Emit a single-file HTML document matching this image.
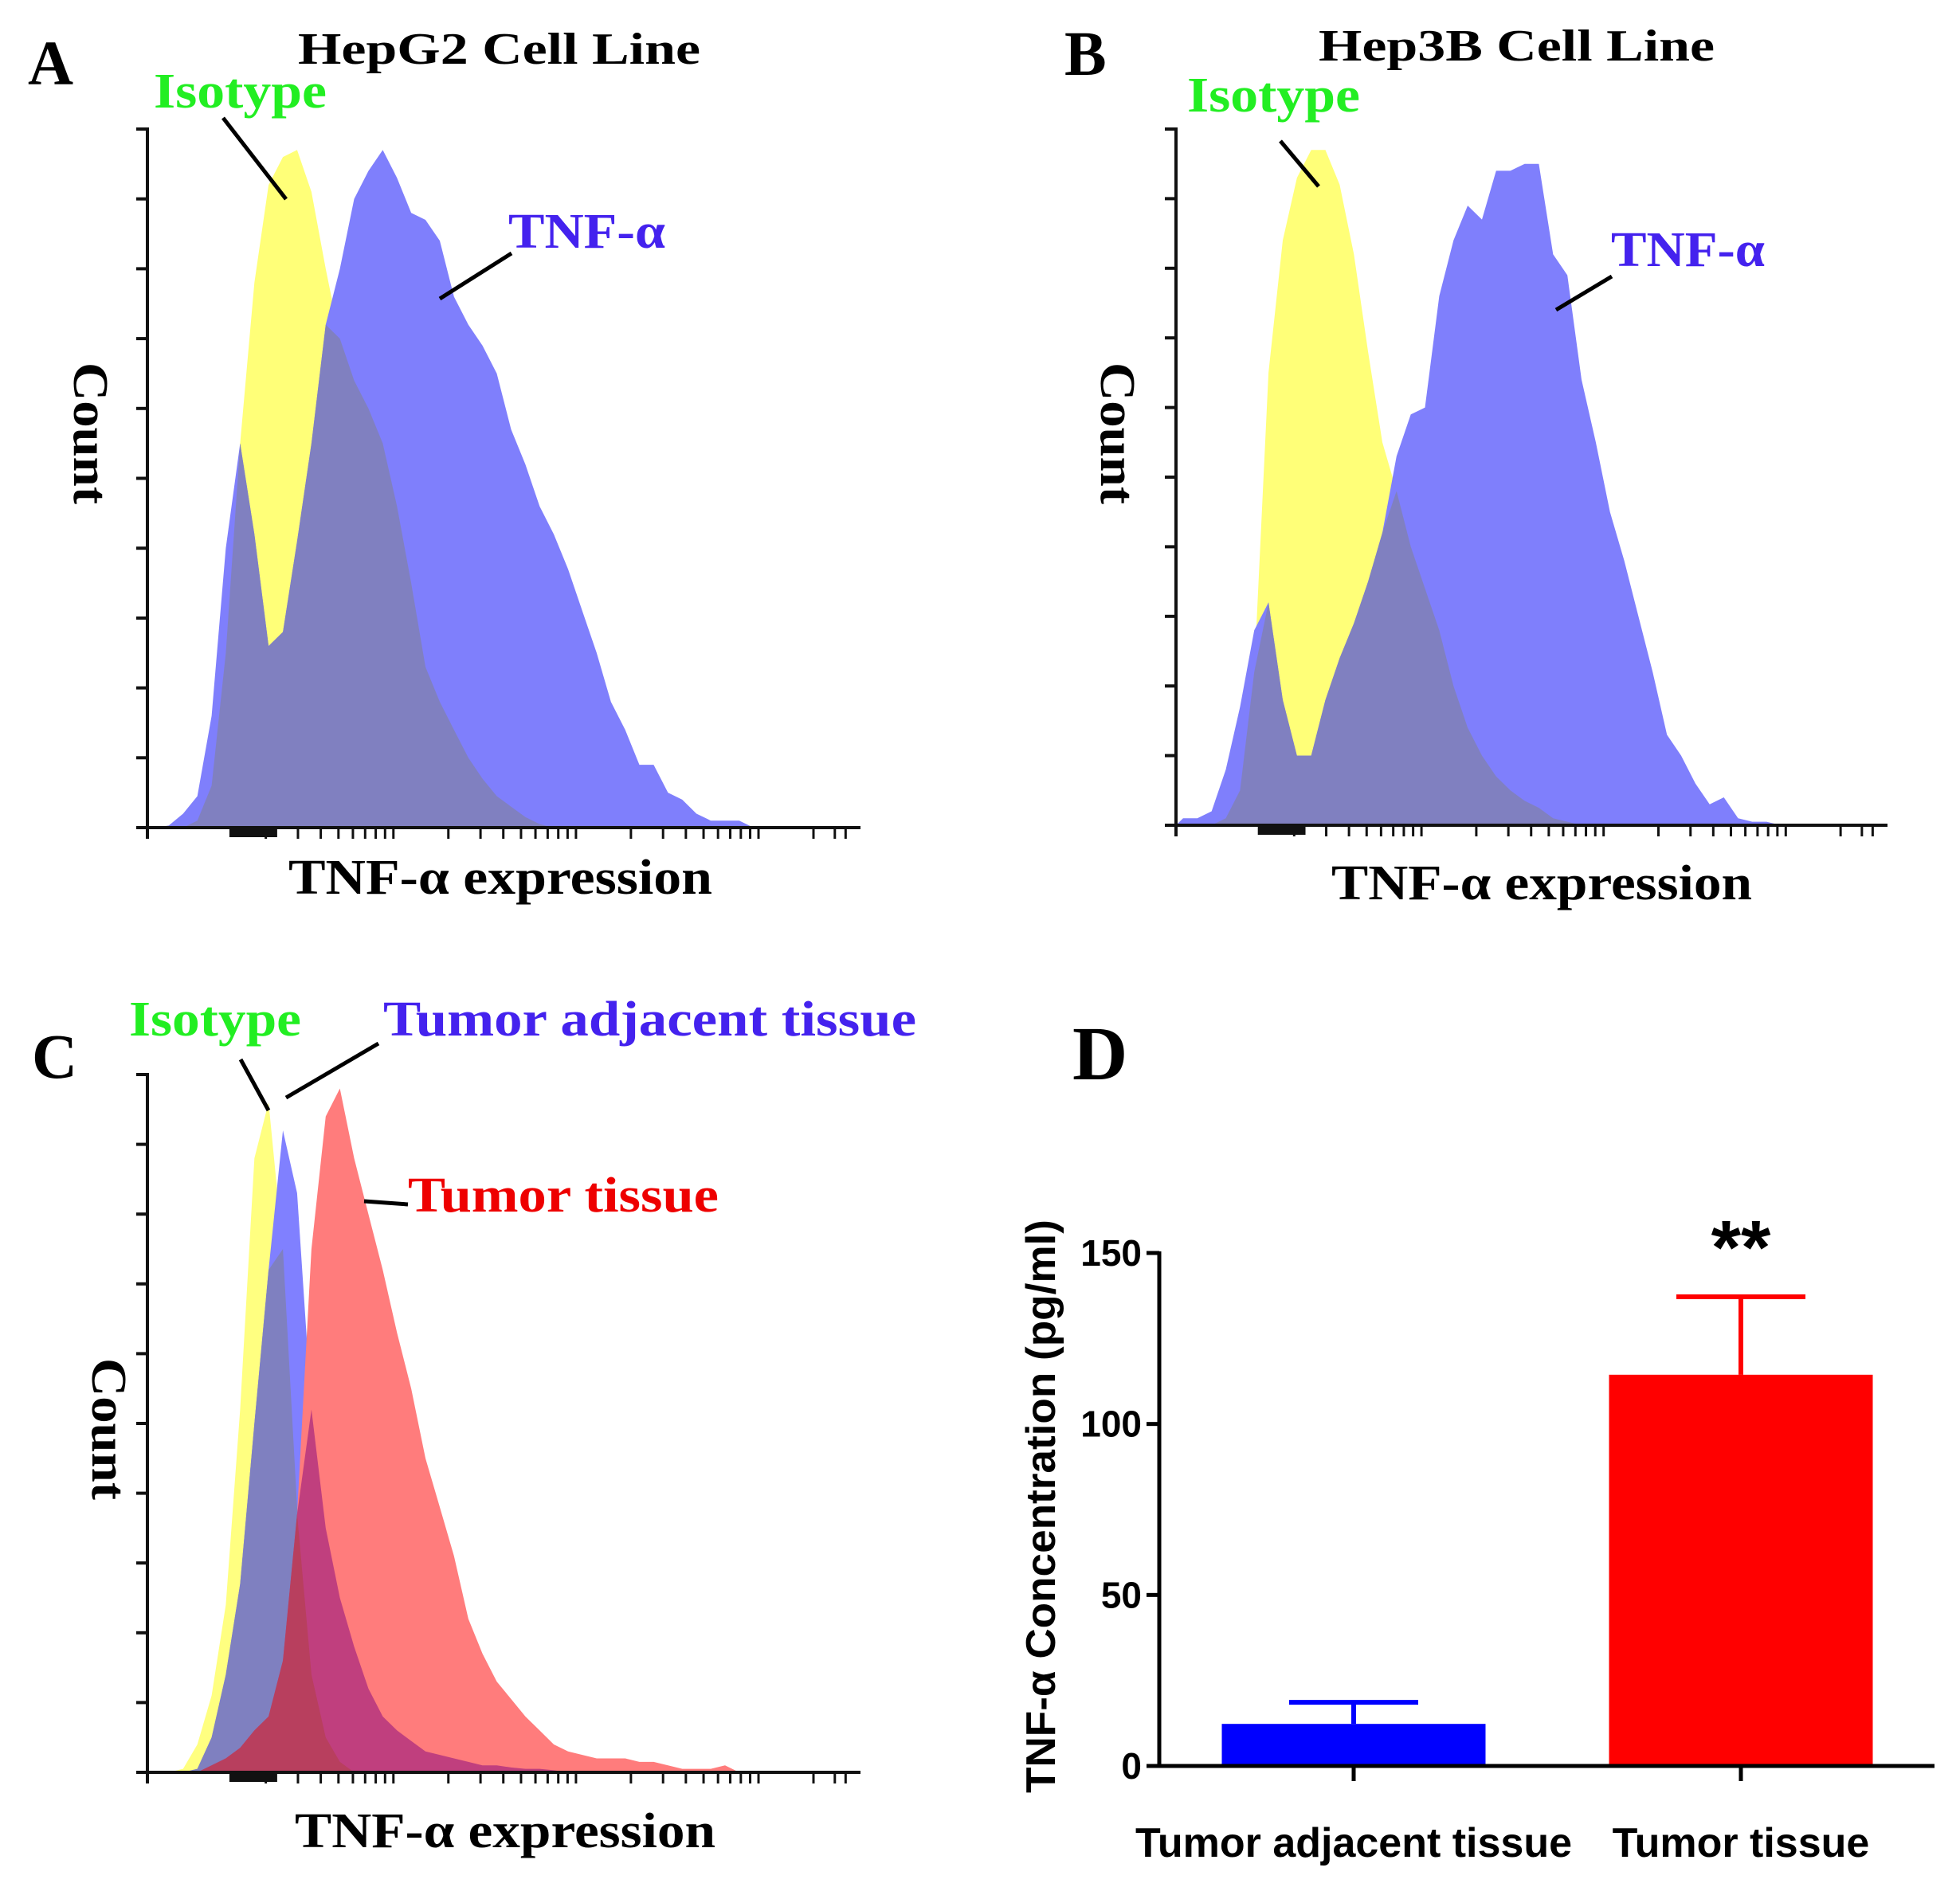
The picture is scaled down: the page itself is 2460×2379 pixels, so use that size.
<!DOCTYPE html>
<html><head><meta charset="utf-8"><style>html,body{margin:0;padding:0;background:#fff}svg{display:block}</style></head>
<body>
<svg id="fig" xmlns="http://www.w3.org/2000/svg" width="2460" height="2379" viewBox="0 0 2460 2379">
<rect width="2460" height="2379" fill="#fff"/>
<g font-family="'Liberation Serif', serif" font-weight="bold">
<text x="35" y="106" font-size="79">A</text>
<text x="374" y="80" font-size="56" textLength="505" lengthAdjust="spacingAndGlyphs">HepG2 Cell Line</text>
<text x="193" y="135" font-size="62" fill="#22ee22" textLength="217" lengthAdjust="spacingAndGlyphs">Isotype</text>
<text x="638" y="311" font-size="62" fill="#4422ee" textLength="197" lengthAdjust="spacingAndGlyphs">TNF-α</text>
<text transform="translate(93,544) rotate(90)" text-anchor="middle" font-size="62" textLength="178" lengthAdjust="spacingAndGlyphs">Count</text>
<text x="362" y="1122" font-size="62" textLength="532" lengthAdjust="spacingAndGlyphs">TNF-α expression</text>

<text x="1336" y="94" font-size="79">B</text>
<text x="1655" y="76" font-size="56" textLength="497" lengthAdjust="spacingAndGlyphs">Hep3B Cell Line</text>
<text x="1490" y="140" font-size="62" fill="#22ee22" textLength="217" lengthAdjust="spacingAndGlyphs">Isotype</text>
<text x="2022" y="334" font-size="62" fill="#4422ee" textLength="193" lengthAdjust="spacingAndGlyphs">TNF-α</text>
<text transform="translate(1382,544) rotate(90)" text-anchor="middle" font-size="62" textLength="178" lengthAdjust="spacingAndGlyphs">Count</text>
<text x="1671" y="1129" font-size="62" textLength="528" lengthAdjust="spacingAndGlyphs">TNF-α expression</text>

<text x="40" y="1353" font-size="79">C</text>
<text x="162" y="1300" font-size="62" fill="#22ee22" textLength="216" lengthAdjust="spacingAndGlyphs">Isotype</text>
<text x="481" y="1300" font-size="62" fill="#4422ee" textLength="669" lengthAdjust="spacingAndGlyphs">Tumor adjacent tissue</text>
<text x="512" y="1521" font-size="62" fill="#ee0000" textLength="390" lengthAdjust="spacingAndGlyphs">Tumor tissue</text>
<text transform="translate(116,1794) rotate(90)" text-anchor="middle" font-size="62" textLength="178" lengthAdjust="spacingAndGlyphs">Count</text>
<text x="370" y="2319" font-size="62" textLength="528" lengthAdjust="spacingAndGlyphs">TNF-α expression</text>

<text x="1346" y="1355" font-size="96">D</text>
</g>
<g id="layers"></g>
</svg>
<script>
// ---------- data ----------
const binWidth = 20; // channel units per bin (channel scale 0-1000)
const aIsotype = [0,0,0,1,6,25,55,78,92,96,97,91,80,70,64,60,55,46,35,23,18,14,10,7,4.5,3,1.5,0.5,0,0,0,0,0,0,0,0,0,0,0,0,0,0,0];
const aTnf = [0,0.3,2,4.5,16,40,55,42,26,28,41,55,72,80,90,94,97,93,88,87,84,76,72,69,65,57,52,46,42,37,31,25,18,14,9,9,5,4,2,1,1,1,0];
const bIsotype = [0,0,0,1,5,22,65,84,93,97,97,92,82,68,55,48,40,34,28,20,14,10,7,5,3.5,2.5,1,0.5,0,0,0,0,0,0,0,0,0,0,0,0,0,0,0];
const bTnf = [1,1,2,8,17,28,32,18,10,10,18,24,29,35,42,53,59,60,76,84,89,87,94,94,95,95,82,79,64,55,45,38,30,22,13,10,6,3,4,1,0.5,0.5,0];
const cIsotype = [0,0,0.5,4,11,24,52,88,96,75,38,14,5,1.5,0,0,0,0,0,0,0,0,0,0,0,0,0,0,0,0,0,0,0,0,0,0,0,0,0,0,0,0];
const cAdjacent = [0,0,0,0.5,5,14,27,50,72,92,83,52,35,25,18,12,8,6,4.5,3,2.5,2,1.5,1,1,0.7,0.5,0.5,0.3,0,0,0,0,0,0,0,0,0,0,0,0,0];
const cTumor = [0,0,0,0,1,2,3.5,6,8,16,37,75,94,98,88,80,72,63,55,45,38,31,22,17,13,10.5,8,6,4,3,2.5,2,2,2,1.5,1.5,1,0.5,0.5,0.5,1,0];
const dCategories = ["Tumor adjacent tissue","Tumor tissue"];
const dMeans = [12.3,114.4];
const dErrors = [6.3,22.8];
const dTicks = [0,50,100,150];
const dColors = ["#0000ff","#ff0000"];

const NS = "http://www.w3.org/2000/svg";
const layers = document.getElementById('layers');
function mk(tag, attrs, parent){
  const e = document.createElementNS(NS, tag);
  for (const k in attrs) e.setAttribute(k, attrs[k]);
  (parent||layers).appendChild(e);
  return e;
}
function minArr(){ const arrs=[...arguments]; return arrs[0].map((v,i)=>Math.min(...arrs.map(a=>a[i]))); }

function histPanel(P, series, name){
  const xs = ch => P.x0 + ch/1000*(P.x1-P.x0);
  const ys = v => P.base - v/100*(P.base-P.top);
  const g = mk('g', {});
  
  
  series.forEach(s=>{
    let d = 'M' + xs(0) + ',' + P.base;
    s.vals.forEach((v,i)=>{ d += ' L' + xs(i*binWidth + binWidth/2).toFixed(1) + ',' + ys(v).toFixed(1); });
    d += ' L' + xs(s.vals.length*binWidth).toFixed(1) + ',' + P.base + ' Z';
    const p = mk('path', {d:d, fill:s.color}, g);
    
    
  });
  const ax = mk('g', {stroke:'#111', 'stroke-width':4, fill:'none'}, g);
  
  
  mk('line', {x1:P.x0, y1:P.top-2, x2:P.x0, y2:P.base+14}, ax);
  mk('line', {x1:P.x0-14, y1:P.base, x2:P.x1, y2:P.base}, ax);
  for (let k=0;k<=10;k++){
    const y = P.base - k/10*(P.base-P.top);
    mk('line', {x1:P.x0-14, y1:y, x2:P.x0, y2:y}, ax);
  }
  const tickCh = [];
  for (let k=0;k<4;k++){
    for (let m=1;m<=9;m++){
      if (k===0 && m===1) continue;
      const c = 89 + 256*k + 256*Math.log10(m);
      if (c < 1000) tickCh.push(c);
    }
  }
  tickCh.push(964);
  tickCh.forEach(c=>{ mk('line', {x1:xs(c), y1:P.base, x2:xs(c), y2:P.base+14, 'stroke-width':3}, ax); });
  mk('rect', {x:xs(115), y:P.base, width:xs(182)-xs(115), height:12, fill:'#111', stroke:'none'}, g);
}

histPanel({x0:185,x1:1080,base:1039,top:162}, [
  {name:'a-isotype-area', vals:aIsotype, color:'#ffff78'},
  {name:'a-tnf-area', vals:aTnf, color:'#7f7ffc'},
  {name:'a-overlap-area', vals:minArr(aIsotype,aTnf), color:'#8080c0'}
], 'panel-a');
histPanel({x0:1476,x1:2369,base:1036,top:162}, [
  {name:'b-isotype-area', vals:bIsotype, color:'#ffff78'},
  {name:'b-tnf-area', vals:bTnf, color:'#7f7ffc'},
  {name:'b-overlap-area', vals:minArr(bIsotype,bTnf), color:'#8080c0'}
], 'panel-b');
histPanel({x0:185,x1:1080,base:2225,top:1349}, [
  {name:'c-isotype-area', vals:cIsotype, color:'#ffff80'},
  {name:'c-adjacent-area', vals:cAdjacent, color:'#8080ff'},
  {name:'c-tumor-area', vals:cTumor, color:'#ff7c7c'},
  {name:'c-isotype-adjacent-overlap', vals:minArr(cIsotype,cAdjacent), color:'#7f80c0'},
  {name:'c-adjacent-tumor-overlap', vals:minArr(cAdjacent,cTumor), color:'#c03f7e'},
  {name:'c-isotype-tumor-overlap', vals:minArr(cIsotype,cTumor), color:'#b83f5e'}
], 'panel-c');

[[280,148,359,250,'a-isotype-leader'],[642,318,552,375,'a-tnf-leader'],
 [1607,177,1655,234,'b-isotype-leader'],[2023,347,1953,389,'b-tnf-leader'],
 [302,1330,337,1394,'c-isotype-leader'],[475,1310,359,1378,'c-adjacent-leader'],
 [457,1508,512,1512,'c-tumor-leader']].forEach(l=>{
  const e = mk('line', {x1:l[0],y1:l[1],x2:l[2],y2:l[3],stroke:'#000','stroke-width':5});
  
  
});

// ---------- panel D bar chart ----------
(function(){
  const X0 = 1455, X1 = 2428, Y0 = 2217, Y150 = 1573;
  const yS = v => Y0 - v/150*(Y0-Y150);
  const centers = [1699, 2185];
  const barW = 331, capW = 162;
  const g = mk('g', {});
  
  
  dMeans.forEach((m,i)=>{
    const c = centers[i];
    const eb = mk('g', {stroke:dColors[i], 'stroke-width':6}, g);
    
    
    mk('line', {x1:c, y1:yS(m), x2:c, y2:yS(m+dErrors[i])}, eb);
    mk('line', {x1:c-capW/2, y1:yS(m+dErrors[i]), x2:c+capW/2, y2:yS(m+dErrors[i])}, eb);
    const r = mk('rect', {x:c-barW/2, y:yS(m), width:barW, height:Y0-yS(m), fill:dColors[i]}, g);
    
    
    const t = mk('text', {x:c, y:2331, 'text-anchor':'middle', 'font-family':"'Liberation Sans', sans-serif", 'font-weight':'bold', 'font-size':52}, g);
    t.textContent = dCategories[i];
    
    
    mk('line', {x1:c, y1:Y0, x2:c, y2:2236, stroke:'#000','stroke-width':5}, g);
  });
  const ax = mk('g', {stroke:'#000','stroke-width':5}, g);
  
  
  mk('line', {x1:X0, y1:Y150-2, x2:X0, y2:Y0+2}, ax);
  mk('line', {x1:X0, y1:Y0, x2:X1, y2:Y0}, ax);
  dTicks.forEach(v=>{
    mk('line', {x1:X0-16, y1:yS(v), x2:X0, y2:yS(v)}, ax);
    const t = mk('text', {x:X0-22, y:yS(v)+16, 'text-anchor':'end', 'font-family':"'Liberation Sans', sans-serif", 'font-weight':'bold', 'font-size':46}, g);
    t.textContent = v;
    
    
  });
  const yt = mk('text', {transform:'translate(1324,1891) rotate(-90)', 'text-anchor':'middle', 'font-family':"'Liberation Sans', sans-serif", 'font-weight':'bold', 'font-size':52, textLength:720, lengthAdjust:'spacingAndGlyphs'}, g);
  yt.textContent = 'TNF-α Concentration (pg/ml)';
  
  
  const st = mk('text', {x:centers[1], y:1599, 'text-anchor':'middle', 'font-family':"'Liberation Sans', sans-serif", 'font-weight':'bold', 'font-size':96}, g);
  st.textContent = '**';
  
  
})();
</script>
</body></html>
